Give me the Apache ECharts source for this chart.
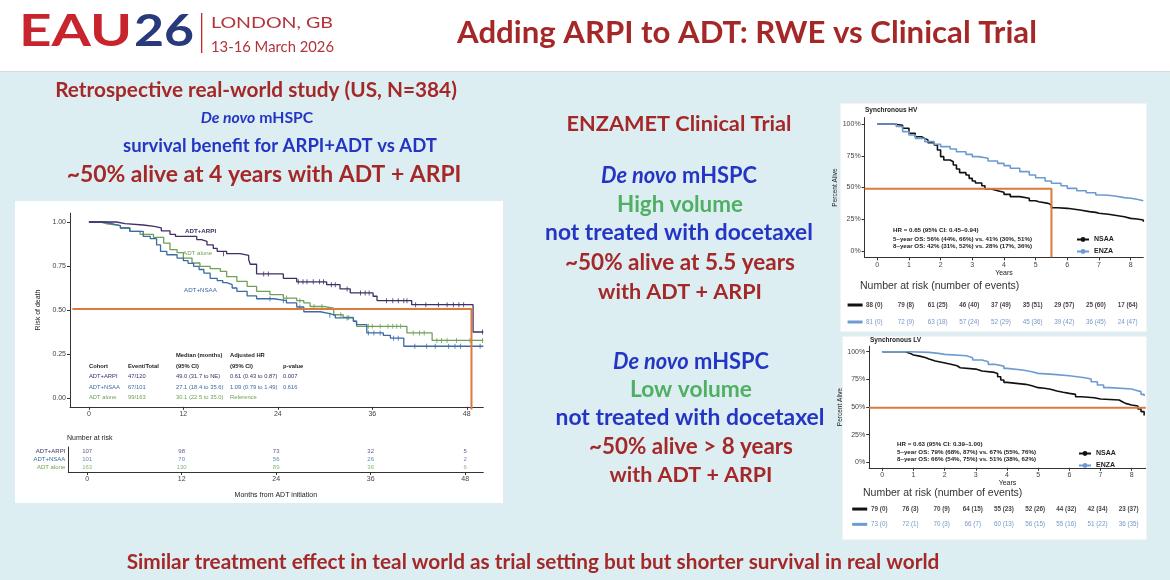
<!DOCTYPE html>
<html><head><meta charset="utf-8">
<script src="https://cdn.jsdelivr.net/npm/echarts@6/dist/echarts.min.js"></script>
<style>html,body{margin:0;padding:0;background:#DDEEF3}#c{width:1170px;height:580px}</style>
</head><body><div id="c"></div>
<script>
// ---------------- DATA ----------------
// Real-world study (months, survival probability)
const rweTicks = [0, 12, 24, 36, 48];
const rweArpi = [[0,1],[3.5,0.991],[4.6,0.983],[6.9,0.975],[8.3,0.966],[9.2,0.95],[10.3,0.93],[11,0.918],[13.7,0.9],[14.3,0.89],[15,0.87],[15.8,0.85],[16.3,0.833],[17.5,0.82],[19.2,0.81],[20.3,0.785],[20.5,0.76],[21.3,0.705],[24.7,0.68],[26.4,0.66],[30.2,0.644],[31.9,0.62],[33.2,0.597],[36.1,0.578],[36.6,0.553],[41,0.53],[48.8,0.375],[50.1,0.375]];
const rweNsaa = [[0,1],[1.9,0.99],[3,0.98],[4,0.966],[5.2,0.947],[6.9,0.918],[7.8,0.905],[8.6,0.87],[9.1,0.833],[9.9,0.814],[11.2,0.795],[12,0.78],[12.6,0.765],[13.3,0.748],[14,0.73],[14.6,0.71],[15.4,0.68],[16.3,0.667],[17,0.655],[17.5,0.644],[18.2,0.625],[18.8,0.606],[20.1,0.58],[21.3,0.564],[23.5,0.553],[25.1,0.54],[26.4,0.517],[27.3,0.49],[29.4,0.48],[30.6,0.47],[31.3,0.455],[33.6,0.436],[34,0.417],[35.3,0.37],[37.4,0.356],[38.3,0.34],[40,0.294],[50.1,0.294]];
const rweAlone = [[0,1],[1.5,0.99],[2.3,0.98],[4,0.966],[5.2,0.947],[6.5,0.93],[8.2,0.913],[9.5,0.88],[10.3,0.843],[11.2,0.826],[12,0.795],[13.1,0.767],[14.1,0.748],[15.4,0.735],[16.7,0.72],[17.5,0.69],[18.8,0.663],[20.1,0.634],[21.3,0.606],[23,0.587],[24.7,0.568],[26.4,0.553],[27.3,0.54],[28.1,0.52],[29.8,0.51],[31.1,0.473],[32.3,0.458],[33.6,0.436],[34,0.407],[40.4,0.37],[43.6,0.327],[50.1,0.327]];
const rweCensArpi = [[17.1,0.82],[22.2,0.705],[22.8,0.705],[26.6,0.66],[27.2,0.66],[27.7,0.66],[28.5,0.66],[29.3,0.66],[29.8,0.66],[30.8,0.644],[31.3,0.644],[32.8,0.62],[34.5,0.597],[35.1,0.597],[35.6,0.597],[37.8,0.553],[38.6,0.553],[39.3,0.553],[40,0.553],[40.4,0.553],[41.5,0.53],[42.8,0.53],[44.4,0.53],[45.5,0.53],[46.3,0.53],[47,0.53],[47.6,0.53],[50,0.375]];
const rweCensNsaa = [[23,0.564],[24.7,0.553],[26.8,0.517],[30.6,0.47],[32.8,0.455],[35.5,0.37],[36.2,0.37],[37,0.37],[38.7,0.34],[39.3,0.34],[41.4,0.294],[42.9,0.294],[44,0.294],[45.7,0.294],[46.5,0.294],[47.2,0.294],[49.7,0.294]];
const rweCensAlone = [[25.1,0.568],[26.8,0.553],[28.6,0.52],[29.6,0.52],[32,0.473],[33,0.458],[35.5,0.407],[36,0.407],[37,0.407],[38,0.407],[38.6,0.407],[39.1,0.407],[39.6,0.407],[41.2,0.37],[42,0.37],[42.6,0.37],[44.2,0.327],[44.8,0.327],[45.5,0.327],[46.7,0.327],[48.4,0.327],[50,0.327]];
const rweMedian = [[-2.1,0.505],[48.6,0.505],[48.6,-0.065]];
const rweGroups = ['ADT alone', 'ADT+NSAA', 'ADT+ARPI'];
const rweRiskArpi = [107, 98, 73, 32, 5];
const rweRiskNsaa = [101, 70, 56, 26, 2];
const rweRiskAlone = [163, 130, 89, 36, 6];
const rweTable = [
  ['Cohort','Event/Total','Median (months)','(95% CI)','Adjusted HR','(95% CI)','p-value'],
  ['ADT+ARPI','47/120','49.0 (31.7 to NE)','0.61 (0.43 to 0.87)','0.007'],
  ['ADT+NSAA','67/101','27.1 (18.4 to 35.6)','1.09 (0.79 to 1.49)','0.616'],
  ['ADT alone','99/163','30.1 (22.5 to 35.0)','Reference','']
];

// ENZAMET (years, proportion alive)
const trialYears = [0,1,2,3,4,5,6,7,8];
const pctTicks = [0, 0.25, 0.5, 0.75, 1];
const hvNsaa = [[0,1],[0.5,0.99],[0.8,0.966],[1.0,0.926],[1.2,0.9],[1.4,0.887],[1.5,0.875],[1.6,0.853],[1.8,0.835],[1.9,0.795],[2.0,0.743],[2.1,0.717],[2.3,0.703],[2.4,0.677],[2.5,0.646],[2.6,0.617],[2.8,0.598],[2.9,0.572],[3.0,0.551],[3.1,0.535],[3.3,0.514],[3.4,0.488],[3.6,0.475],[3.8,0.462],[4.0,0.446],[4.2,0.428],[4.5,0.415],[4.8,0.396],[5.0,0.388],[5.1,0.375],[5.4,0.362],[5.5,0.341],[5.7,0.336],[6.0,0.323],[6.4,0.31],[6.7,0.304],[6.9,0.297],[7.0,0.289],[7.3,0.278],[7.6,0.27],[7.8,0.257],[8.0,0.252],[8.2,0.244],[8.4,0.231]];
const hvEnza = [[0,1],[0.6,0.98],[0.8,0.94],[1.0,0.913],[1.2,0.887],[1.5,0.861],[1.8,0.84],[2.0,0.822],[2.3,0.803],[2.5,0.782],[2.8,0.761],[3.0,0.743],[3.2,0.73],[3.5,0.709],[3.8,0.69],[4.0,0.672],[4.2,0.651],[4.5,0.625],[4.8,0.598],[5.0,0.577],[5.3,0.551],[5.5,0.533],[5.8,0.514],[6.0,0.493],[6.3,0.475],[6.6,0.459],[6.9,0.441],[7.2,0.433],[7.5,0.42],[7.8,0.415],[8.0,0.407],[8.2,0.396],[8.4,0.394]];
const hvMedian = [[-0.4,0.49],[5.5,0.49],[5.5,-0.05]];
const hvRiskNsaa = [88,79,61,46,37,35,29,25,17];
const hvEventsNsaa = [0,8,25,40,49,51,57,60,64];
const hvRiskEnza = [81,72,63,57,52,45,39,36,24];
const hvEventsEnza = [0,9,18,24,29,36,42,45,47];
const hvStats = ['HR = 0.65 (95% CI: 0.45\u20130.94)','5\u2013year OS: 56% (44%, 66%) vs. 41% (30%, 51%)','8\u2013year OS: 42% (31%, 52%) vs. 28% (17%, 36%)'];

const lvNsaa = [[0,1],[0.75,0.985],[0.9,0.97],[1.0,0.96],[1.2,0.946],[1.4,0.934],[1.5,0.916],[1.7,0.904],[1.9,0.886],[2.2,0.873],[2.4,0.855],[2.5,0.843],[3.0,0.825],[3.2,0.813],[3.6,0.804],[3.7,0.774],[3.8,0.744],[3.9,0.723],[4.0,0.714],[4.3,0.705],[4.6,0.693],[4.8,0.675],[5.0,0.669],[5.2,0.66],[5.4,0.645],[5.6,0.633],[5.8,0.623],[6.0,0.614],[6.2,0.593],[6.4,0.584],[6.8,0.572],[7.0,0.563],[7.6,0.548],[7.7,0.533],[7.8,0.518],[8.0,0.509],[8.2,0.482],[8.3,0.458],[8.4,0.422]];
const lvEnza = [[0,1],[0.9,0.994],[1.5,0.985],[1.8,0.976],[2.0,0.964],[2.7,0.946],[2.9,0.925],[3.2,0.91],[3.4,0.886],[3.6,0.87],[3.9,0.849],[4.0,0.834],[4.5,0.819],[4.8,0.804],[5.0,0.795],[5.5,0.783],[6.0,0.765],[6.5,0.753],[6.7,0.729],[6.9,0.699],[7.1,0.675],[7.3,0.663],[8.0,0.654],[8.1,0.639],[8.3,0.614],[8.4,0.6]];
const lvMedian = [[-0.42,0.494],[8.45,0.494]];
const lvRiskNsaa = [79,76,70,64,55,52,44,42,23];
const lvEventsNsaa = [0,3,9,15,23,26,32,34,37];
const lvRiskEnza = [73,72,70,66,60,56,55,51,36];
const lvEventsEnza = [0,1,3,7,13,15,16,22,35];
const lvStats = ['HR = 0.63 (95% CI: 0.39\u20131.00)','5\u2013year OS: 79% (68%, 87%) vs. 67% (55%, 76%)','8\u2013year OS: 66% (54%, 75%) vs. 51% (38%, 62%)'];

// ---------------- STYLE ----------------
const RED = '#A52828', BLUE = '#2435C4', GREEN = '#4FAF62';
const C_ARPI = '#3F2F66', C_NSAA = '#3C6BA3', C_ALONE = '#6FA055', ORANGE = '#DA7A3C';
const C_ENZA = '#6C9BD2', C_BLACK = '#111111';
const FONT = 'Lato, "Open Sans", sans-serif';
const SMALL = '"Liberation Sans", Arial, sans-serif';

const mctx = document.createElement('canvas').getContext('2d');
function natW(text, size, weight, family) {
  mctx.font = weight + ' ' + size + 'px ' + family;
  return mctx.measureText(text).width;
}
function fitPx(text, width, weight, family) {
  return 100 * width / natW(text, 100, weight, family);
}
function line(text, cx, cy, color, w, rich) {
  const plain = text.replace(/\{[a-z]+\|([^}]*)\}/g, '$1');
  const fs = fitPx(plain, w, 'bold', 'Lato');
  const el = { type: 'text', x: cx, y: cy, z: 100,
    style: { text: text, fill: color, fontFamily: FONT, fontWeight: 'bold', fontSize: fs, align: 'center', verticalAlign: 'middle' } };
  if (rich) {
    el.style.rich = { i: { fontStyle: 'italic', fontWeight: 'bold', fontFamily: FONT, fontSize: fs, fill: color },
                      n: { fontWeight: 'bold', fontFamily: FONT, fontSize: fs, fill: color } };
  }
  return el;
}
function stretched(text, x, y, color, size, w, weight) {
  return { type: 'text', x: x, y: y, z: 100, scaleX: w / natW(text, size, weight, 'Lato'),
    style: { text: text, fill: color, fontFamily: FONT, fontWeight: weight, fontSize: size, align: 'left', verticalAlign: 'middle' } };
}
function small(text, x, y, color, fs, weight, align) {
  return { type: 'text', x: x, y: y, z: 100,
    style: { text: text, fill: color, fontFamily: SMALL, fontSize: fs, fontWeight: weight || 'normal', align: align || 'left', verticalAlign: 'middle' } };
}

const graphics = [
  { type: 'rect', z: -10, shape: { x: 0, y: 0, width: 1170, height: 71 }, style: { fill: '#ffffff' } },
  { type: 'rect', z: -10, shape: { x: 0, y: 71, width: 1170, height: 1 }, style: { fill: '#cfdde3' } },
  { type: 'rect', z: -10, shape: { x: 15, y: 201, width: 488, height: 302 }, style: { fill: '#ffffff' } },
  { type: 'rect', z: -10, shape: { x: 840, y: 103, width: 307, height: 229 }, style: { fill: '#ffffff', stroke: '#e4eaec' } },
  { type: 'rect', z: -10, shape: { x: 842, y: 336, width: 305, height: 204 }, style: { fill: '#ffffff', stroke: '#e4eaec' } },
  // logo
  stretched('EAU', 19, 32, '#C8242D', 44, 113, 'bold'),
  stretched('26', 134, 32, '#283A7C', 44, 60, 'bold'),
  { type: 'rect', z: 100, shape: { x: 201, y: 13, width: 1.3, height: 40 }, style: { fill: '#C8242D' } },
  stretched('LONDON, GB', 211, 23, '#B2343B', 16, 122, 'normal'),
  stretched('13-16 March 2026', 211, 47, '#B2343B', 16, 123, 'normal'),
  // title
  line('Adding ARPI to ADT: RWE vs Clinical Trial', 747, 33, RED, 580),
  // left text block
  line('Retrospective real-world study (US, N=384)', 256, 90, RED, 402),
  line('{i|De novo} {n|mHSPC}', 257, 118, BLUE, 117, true),
  line('survival benefit for ARPI+ADT vs ADT', 280, 146, BLUE, 314),
  line('~50% alive at 4 years with ADT + ARPI', 264, 175, RED, 395),
  // middle block 1
  line('ENZAMET Clinical Trial', 679, 124, RED, 225),
  line('{i|De novo} {n|mHSPC}', 679, 176, BLUE, 162, true),
  line('High volume', 680, 205, GREEN, 126),
  line('not treated with docetaxel', 679, 233, BLUE, 268),
  line('~50% alive at 5.5 years', 680, 263, RED, 230),
  line('with ADT + ARPI', 680, 292, RED, 164),
  // middle block 2
  line('{i|De novo} {n|mHSPC}', 691, 362, BLUE, 162, true),
  line('Low volume', 691, 390, GREEN, 122),
  line('not treated with docetaxel', 690, 418, BLUE, 269),
  line('~50% alive > 8 years', 691, 447, RED, 204),
  line('with ADT + ARPI', 691, 475, RED, 163),
  // bottom
  line('Similar treatment effect in teal world as trial setting but but shorter survival in real world', 533, 562, RED, 813),
  // left chart annotations
  small('ADT+ARPI', 185, 231, C_ARPI, 6.2, 'bold'),
  small('ADT alone', 183, 253, C_ALONE, 6.2),
  small('ADT+NSAA', 184, 290, C_NSAA, 6.2),
  small('Number at risk', 67, 438, '#222', 7),
  // right chart annotations
  small('Synchronous HV', 865, 110, '#222', 6.5, 'bold'),
  small('Number at risk (number of events)', 860, 286, '#333', 10.5),
  small('Synchronous LV', 870, 340, '#222', 6.5, 'bold'),
  small('Number at risk (number of events)', 863, 493, '#333', 10.5)
];
// left table text
const colX = [89, 128, 176, 230, 283];
graphics.push(small(rweTable[0][2], colX[2], 355, '#222', 5.8, 'bold'));
graphics.push(small(rweTable[0][4], colX[3], 355, '#222', 5.8, 'bold'));
[rweTable[0][0], rweTable[0][1], rweTable[0][3], rweTable[0][5], rweTable[0][6]].forEach((t, i) => graphics.push(small(t, colX[i], 366, '#222', 5.8, 'bold')));
const rowCol = [C_ARPI, C_NSAA, C_ALONE];
[376, 387, 397].forEach((y, r) => {
  rweTable[r + 1].forEach((t, i) => { if (t) graphics.push(small(t, colX[i], y, rowCol[r], 5.8)); });
});
hvStats.forEach((t, i) => graphics.push(small(t, 893, [230, 239, 246.7][i], '#222', 6.2, 'bold')));
lvStats.forEach((t, i) => graphics.push(small(t, 897, [444.3, 452.3, 459.3][i], '#222', 6.2, 'bold')));

// ---------------- AXES ----------------
function valX(grid, min, max, ticks, show, extra) {
  return Object.assign({ gridIndex: grid, type: 'value', min: min, max: max, show: show,
    axisLine: { show: true, onZero: false, lineStyle: { color: '#333', width: 1 } },
    axisTick: { show: true, customValues: ticks, length: 3, lineStyle: { color: '#333' } },
    axisLabel: { customValues: ticks, fontSize: 7, color: '#444', margin: 4, fontFamily: SMALL },
    splitLine: { show: false } }, extra || {});
}
function valY(grid, fmt, extra) {
  return Object.assign({ gridIndex: grid, type: 'value', min: -0.05, max: 1.05,
    axisLine: { show: true, onZero: false, lineStyle: { color: '#333', width: 1 } },
    axisTick: { show: true, customValues: pctTicks, length: 3, lineStyle: { color: '#333' } },
    axisLabel: { customValues: pctTicks, fontSize: 7, color: '#444', margin: 4, fontFamily: SMALL, formatter: fmt },
    splitLine: { show: false } }, extra || {});
}
const pctFmt = v => Math.round(v * 100) + '%';
const riskRich = { n: { width: 15, height: 3, backgroundColor: C_BLACK }, e: { width: 15, height: 3, backgroundColor: C_ENZA } };

const grids = [
  { left: 70, top: 213.2, width: 413.3, height: 193.6 },
  { left: 68.3, top: 447, width: 415, height: 25 },
  { left: 864.6, top: 117.65, width: 278.7, height: 139.7 },
  { left: 864.6, top: 296.5, width: 278.7, height: 34 },
  { left: 869.2, top: 346.2, width: 276.5, height: 121.6 },
  { left: 869.2, top: 501.4, width: 276.5, height: 30.6 }
];
const xAxes = [
  valX(0, -2.4, 50.1, rweTicks, true),
  valX(1, -2.4, 50.3, rweTicks, true, { name: 'Months from ADT initiation', nameLocation: 'middle', nameGap: 20, nameTextStyle: { fontSize: 7, color: '#222', fontFamily: SMALL } }),
  valX(2, -0.4, 8.4, trialYears, true, { name: 'Years', nameLocation: 'middle', nameGap: 11, nameTextStyle: { fontSize: 7, color: '#222', fontFamily: SMALL } }),
  valX(3, -0.4, 8.4, trialYears, false),
  valX(4, -0.42, 8.45, trialYears, true, { name: 'Years', nameLocation: 'middle', nameGap: 10, nameTextStyle: { fontSize: 7, color: '#222', fontFamily: SMALL } }),
  valX(5, -0.42, 8.45, trialYears, false)
];
const yAxes = [
  valY(0, v => v.toFixed(2), { name: 'Risk of death', nameLocation: 'middle', nameGap: 28, nameTextStyle: { fontSize: 7, color: '#222', fontFamily: SMALL } }),
  { gridIndex: 1, type: 'category', data: rweGroups,
    axisLine: { show: true, onZero: false, lineStyle: { color: '#333' } }, axisTick: { show: false },
    axisLabel: { interval: 0, fontSize: 6, margin: 3, fontFamily: SMALL, color: (v) => v === 'ADT+ARPI' ? C_ARPI : (v === 'ADT+NSAA' ? C_NSAA : C_ALONE) } },
  valY(2, pctFmt, { name: 'Percent Alive', nameLocation: 'middle', nameGap: 23, nameTextStyle: { fontSize: 6.5, color: '#222', fontFamily: SMALL } }),
  { gridIndex: 3, type: 'category', data: ['ENZA', 'NSAA'], axisLine: { show: false, onZero: false }, axisTick: { show: false },
    axisLabel: { interval: 0, margin: 2, formatter: v => v === 'NSAA' ? '{n| }' : '{e| }', rich: riskRich } },
  valY(4, pctFmt, { name: 'Percent Alive', nameLocation: 'middle', nameGap: 24, nameTextStyle: { fontSize: 6.5, color: '#222', fontFamily: SMALL } }),
  { gridIndex: 5, type: 'category', data: ['ENZA', 'NSAA'], axisLine: { show: false, onZero: false }, axisTick: { show: false },
    axisLabel: { interval: 0, margin: 2, formatter: v => v === 'NSAA' ? '{n| }' : '{e| }', rich: riskRich } }
];

// ---------------- SERIES ----------------
function km(name, ax, data, color, w) {
  return { name: name, type: 'line', step: 'end', xAxisIndex: ax, yAxisIndex: ax, data: data, symbol: 'none',
    lineStyle: { color: color, width: w }, itemStyle: { color: color }, silent: true };
}
function cens(ax, data, color, size) {
  return { type: 'scatter', xAxisIndex: ax, yAxisIndex: ax, data: data, symbol: 'rect', symbolSize: size,
    itemStyle: { color: color }, silent: true };
}
function med(ax, data) {
  return { type: 'line', xAxisIndex: ax, yAxisIndex: ax, data: data, symbol: 'none', clip: false,
    lineStyle: { color: ORANGE, width: 2 }, silent: true, z: 5 };
}
function riskRow(ax, xs, cat, vals, events, color, fs, weight, dx) {
  return { type: 'scatter', xAxisIndex: ax, yAxisIndex: ax, symbolSize: 1, itemStyle: { color: 'rgba(0,0,0,0)' }, silent: true, z: 10,
    data: xs.map((x, i) => events ? [x, cat, vals[i], events[i]] : [x, cat, vals[i]]),
    label: { show: true, position: 'inside', offset: [dx || 0, 0], fontSize: fs, fontWeight: weight || 'normal', color: color, fontFamily: SMALL,
      formatter: p => events ? p.value[2] + ' (' + p.value[3] + ')' : String(p.value[2]) } };
}

const series = [
  km('ADT alone', 0, rweAlone, C_ALONE, 1.3),
  km('ADT+NSAA', 0, rweNsaa, C_NSAA, 1.3),
  km('ADT+ARPI', 0, rweArpi, C_ARPI, 1.3),
  cens(0, rweCensAlone, C_ALONE, [1, 5]),
  cens(0, rweCensNsaa, C_NSAA, [1, 5]),
  cens(0, rweCensArpi, C_ARPI, [1, 5]),
  med(0, rweMedian),
  riskRow(1, rweTicks, 'ADT+ARPI', rweRiskArpi, null, C_ARPI, 6),
  riskRow(1, rweTicks, 'ADT+NSAA', rweRiskNsaa, null, C_NSAA, 6),
  riskRow(1, rweTicks, 'ADT alone', rweRiskAlone, null, C_ALONE, 6),
  km('NSAA', 2, hvNsaa, C_BLACK, 1.6),
  km('ENZA', 2, hvEnza, C_ENZA, 1.6),
  med(2, hvMedian),
  riskRow(3, trialYears, 'NSAA', hvRiskNsaa, hvEventsNsaa, '#111', 6.3, 'bold', -3),
  riskRow(3, trialYears, 'ENZA', hvRiskEnza, hvEventsEnza, '#4F7FB8', 6.3, 'normal', -3),
  km('NSAA', 4, lvNsaa, C_BLACK, 1.6),
  km('ENZA', 4, lvEnza, C_ENZA, 1.6),
  med(4, lvMedian),
  riskRow(5, trialYears, 'NSAA', lvRiskNsaa, lvEventsNsaa, '#111', 6.3, 'bold', -3),
  riskRow(5, trialYears, 'ENZA', lvRiskEnza, lvEventsEnza, '#4F7FB8', 6.3, 'normal', -3)
];

const legendBase = { data: ['NSAA', 'ENZA'], orient: 'vertical', itemWidth: 12, itemHeight: 6, itemGap: 5,
  textStyle: { fontSize: 7, fontWeight: 'bold', color: '#222', fontFamily: SMALL }, selectedMode: false };

const chart = echarts.init(document.getElementById('c'));
chart.setOption({
  animation: false,
  backgroundColor: '#DDEEF3',
  grid: grids,
  xAxis: xAxes,
  yAxis: yAxes,
  legend: [Object.assign({ left: 1071, top: 231 }, legendBase), Object.assign({ left: 1073, top: 445, itemGap: 3 }, legendBase)],
  graphic: { elements: graphics },
  series: series
});
</script></body></html>
